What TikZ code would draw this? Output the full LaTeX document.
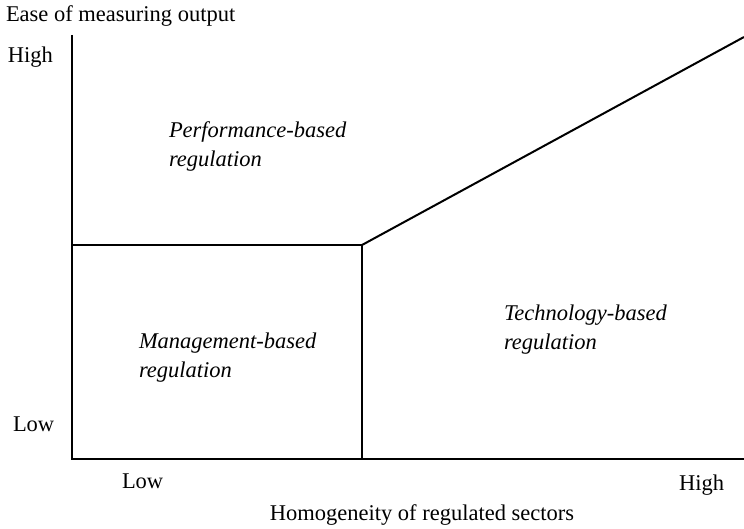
\documentclass[tikz,border=0pt]{standalone}
\usepackage{fontspec}
\setmainfont{Liberation Serif}
\begin{document}
\begin{tikzpicture}[x=1pt,y=1pt,line width=2pt,
	lbl/.style={inner sep=0pt,font=\fontsize{22.5}{29}\selectfont},
	region/.style={lbl,align=left,font=\fontsize{22.5}{29}\selectfont\itshape}]
	\useasboundingbox (0,0) rectangle (744,528);
	\coordinate (O) at (72,69);
	\coordinate (T) at (72,493);
	\coordinate (R) at (744,69);
	\coordinate (B) at (72,283);
	\coordinate (K) at (362,283);
	\coordinate (E) at (744,491);
	% axes and regions
	\draw (T) -- (O) -- (R);
	\draw (B) -- (K) -- (K|-O);
	\draw (K) -- (E);
	% axis labels
	\node[lbl,anchor=base west] (ylab) at (5,506) {Ease of measuring output};
	\node[lbl,anchor=base west] (yhigh) at (7,465) {High};
	\node[lbl,anchor=base west] (ylow) at (12,97) {Low};
	\node[lbl,anchor=base west] (xlow) at (121,40) {Low};
	\node[lbl,anchor=base west] (xhigh) at (678,38) {High};
	\node[lbl,anchor=base] (xlab) at (422,8) {Homogeneity of regulated sectors};
	% regulation types (base = last line)
	\node[region,anchor=base west] (perf) at (168,361) {Performance-based\\regulation};
	\node[region,anchor=base west] (mgmt) at (138,151) {Management-based\\regulation};
	\node[region,anchor=base west] (tech) at (503,179) {Technology-based\\regulation};
\end{tikzpicture}
\end{document}
